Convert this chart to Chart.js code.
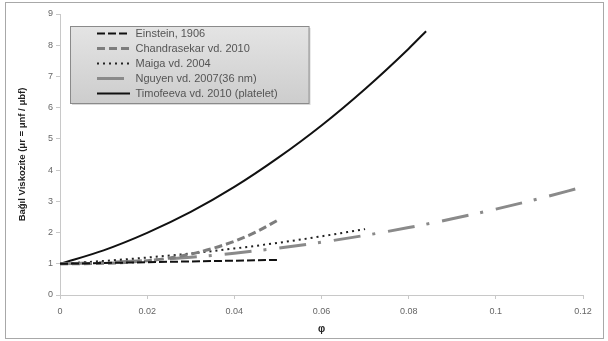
<!DOCTYPE html>
<html>
<head>
<meta charset="utf-8">
<script src="https://cdn.jsdelivr.net/npm/chart.js@4"></script>
<style>
  body { margin: 0; background: #fff; }
  #wrap { position: relative; width: 608px; height: 341px; }
  #frame { position: absolute; left: 5px; top: 2px; width: 597px; height: 335px;
           border: 1px solid #a8a8a8; pointer-events: none; }
</style>
</head>
<body>
<div id="wrap">
  <canvas id="viscChart" width="608" height="341"></canvas>
  <div id="frame"></div>
</div>
<script>
// phi values and relative viscosity
const einsteinPhi = [0, 0.05];
const einsteinMu = [1, 1.125];

const chandraPhi = [0, 0.005, 0.01, 0.015, 0.02, 0.025, 0.03, 0.035, 0.04, 0.045, 0.05];
const chandraMu = [1, 1.002, 1.014, 1.04, 1.10, 1.18, 1.31, 1.49, 1.72, 2.02, 2.40];

const maigaPhi = [0, 0.01, 0.02, 0.03, 0.04, 0.05, 0.06, 0.07];
const maigaMu = [1, 1.09, 1.20, 1.33, 1.49, 1.67, 1.88, 2.11];

const nguyenPhi = [0, 0.01, 0.02, 0.03, 0.04, 0.05, 0.06, 0.07, 0.08, 0.09, 0.1, 0.11, 0.12];
const nguyenMu = [1, 1.04, 1.11, 1.21, 1.34, 1.50, 1.69, 1.91, 2.16, 2.44, 2.75, 3.09, 3.46];

const timofPhi = [0, 0.01, 0.02, 0.03, 0.04, 0.05, 0.06, 0.07, 0.08, 0.084];
const timofMu = [1, 1.43, 1.99, 2.66, 3.46, 4.39, 5.43, 6.60, 7.89, 8.45];

const xTicks = [0, 0.02, 0.04, 0.06, 0.08, 0.1, 0.12];

function pts(xs, ys) {
    return xs.map((x, i) => ({ x: x, y: ys[i] }));
}

// grey box behind the legend
const legendBox = {
    id: 'legendBox',
    afterLayout(chart) {
        // move the legend inside the plot like the original
        chart.legend.left += 33;
        chart.legend.top += 24;
        chart.legend.bottom += 24;
    },
    beforeDraw(chart) {
        const boxes = chart.legend.legendHitBoxes;
        if (!boxes || !boxes.length) return;
        let l = Infinity, r = -Infinity, t = Infinity, b = -Infinity;
        boxes.forEach(h => {
            l = Math.min(l, h.left); r = Math.max(r, h.left + h.width);
            t = Math.min(t, h.top); b = Math.max(b, h.top + h.height);
        });
        const x0 = l - 27, y0 = t - 2, w = r + 31 - x0, h = b + 4 - y0;
        const ctx = chart.ctx;
        ctx.save();
        ctx.fillStyle = 'rgba(0,0,0,0.15)';
        ctx.fillRect(x0 + 2, y0 + 2, w, h);
        const g = ctx.createLinearGradient(0, y0, 0, y0 + h);
        g.addColorStop(0, '#e4e4e4');
        g.addColorStop(1, '#cdcdcd');
        ctx.fillStyle = g;
        ctx.fillRect(x0, y0, w, h);
        ctx.strokeStyle = '#8a8a8a';
        ctx.lineWidth = 1;
        ctx.strokeRect(x0 + 0.5, y0 + 0.5, w, h);
        ctx.restore();
    }
};

const ctx = document.getElementById('viscChart').getContext('2d');
const viscChart = new Chart(ctx, {
    type: 'scatter',
    data: {
        datasets: [
            {
                label: 'Einstein, 1906',
                data: pts(einsteinPhi, einsteinMu),
                showLine: true,
                borderColor: '#111',
                borderWidth: 2,
                borderDash: [8, 3],
                pointRadius: 0
            },
            {
                label: 'Chandrasekar vd. 2010',
                data: pts(chandraPhi, chandraMu),
                showLine: true,
                borderColor: '#7d7d7d',
                borderWidth: 3,
                borderDash: [8, 4],
                cubicInterpolationMode: 'monotone',
                pointRadius: 0
            },
            {
                label: 'Maiga vd. 2004',
                data: pts(maigaPhi, maigaMu),
                showLine: true,
                borderColor: '#222',
                borderWidth: 2,
                borderDash: [2, 4],
                cubicInterpolationMode: 'monotone',
                pointRadius: 0
            },
            {
                label: 'Nguyen vd. 2007(36 nm)',
                data: pts(nguyenPhi, nguyenMu),
                showLine: true,
                borderColor: '#8a8a8a',
                borderWidth: 3,
                borderDash: [27, 12, 3, 13],
                cubicInterpolationMode: 'monotone',
                pointRadius: 0
            },
            {
                label: 'Timofeeva vd. 2010 (platelet)',
                data: pts(timofPhi, timofMu),
                showLine: true,
                borderColor: '#111',
                borderWidth: 2,
                cubicInterpolationMode: 'monotone',
                pointRadius: 0
            }
        ]
    },
    options: {
        responsive: false,
        animation: false,
        layout: { padding: { left: 0, top: 14, right: 25, bottom: 0 } },
        plugins: {
            tooltip: { enabled: false },
            legend: {
                position: 'chartArea',
                align: 'start',
                labels: {
                    usePointStyle: true,
                    pointStyle: 'line',
                    pointStyleWidth: 33,
                    padding: 4,
                    color: '#555',
                    font: { family: 'Liberation Sans', size: 11 },
                    generateLabels: (chart) => chart.data.datasets.map((ds, i) => ({
                        text: ds.label,
                        datasetIndex: i,
                        fillStyle: ds.borderColor,
                        strokeStyle: ds.borderColor,
                        lineWidth: ds.borderWidth,
                        lineDash: ds.borderDash || [],
                        pointStyle: 'line',
                        fontColor: '#555',
                        hidden: false
                    }))
                }
            }
        },
        scales: {
            x: {
                type: 'linear',
                min: 0,
                max: 0.12,
                afterBuildTicks: (scale) => { scale.ticks = xTicks.map(v => ({ value: v })); },
                afterFit: (scale) => { scale.height = 46; },
                border: { color: '#c8c8c8' },
                grid: { drawOnChartArea: false, tickLength: 4, color: '#c8c8c8' },
                ticks: {
                    padding: 7,
                    color: '#666',
                    font: { family: 'Liberation Sans', size: 9 },
                    callback: (v) => String(v)
                },
                title: {
                    display: true,
                    text: 'φ',
                    color: '#222',
                    padding: { top: 0, bottom: 6 },
                    font: { family: 'Liberation Sans', size: 10, weight: 'bold' }
                }
            },
            y: {
                min: 0,
                max: 9,
                afterFit: (scale) => { scale.width = 60; },
                border: { color: '#c8c8c8' },
                grid: { drawOnChartArea: false, tickLength: 4, color: '#c8c8c8' },
                ticks: {
                    stepSize: 1,
                    padding: 3,
                    color: '#666',
                    font: { family: 'Liberation Sans', size: 9 }
                },
                title: {
                    display: true,
                    text: 'Bağıl Viskozite (μr = μnf / μbf)',
                    color: '#222',
                    padding: { top: 17, bottom: 0 },
                    font: { family: 'Liberation Sans', size: 9.5, weight: 'bold' }
                }
            }
        }
    },
    plugins: [legendBox]
});
</script>
</body>
</html>
